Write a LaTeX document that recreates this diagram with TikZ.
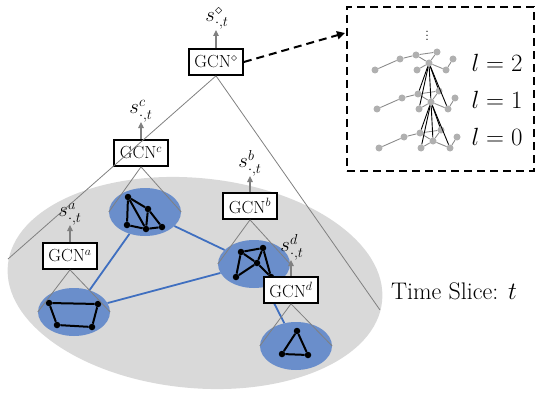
\documentclass[tikz,border=0pt]{standalone}
\usetikzlibrary{shapes.geometric,arrows.meta}
\begin{document}
\begin{tikzpicture}[x=1pt,y=-1pt,
    blob/.style={ellipse,fill=blobC,minimum width=72pt,minimum height=48pt,inner sep=0pt},
    vert/.style={circle,fill=black,minimum size=6.5pt,inner sep=0pt},
    bond/.style={line width=2pt},
    link/.style={draw=linkC,line width=1.8pt},
    cone/.style={draw=coneC,line width=0.8pt},
    gcn/.style={draw=black,line width=1.7pt,fill=white,minimum width=54pt,minimum height=26pt,
                inner sep=1pt,font=\fontsize{17.5}{19}\selectfont},
    up/.style={draw=coneC,line width=1.2pt,-{Triangle[length=6pt,width=5.5pt]}},
    slabel/.style={font=\fontsize{22}{24}\selectfont,inner sep=0pt,anchor=south},
    zoombox/.style={draw=black,line width=2pt,dash pattern=on 8pt off 5pt,
                    minimum width=187pt,minimum height=164pt},
    zoomarrow/.style={draw=black,line width=2pt,dash pattern=on 8pt off 5pt,
                      -{Triangle[length=8pt,width=8pt]}},
    gdot/.style={circle,fill=dotC,minimum size=7pt,inner sep=0pt},
    gedge/.style={draw=dotC!80!black,line width=0.9pt},
    fan/.style={draw=black,line width=0.9pt},
    lvl/.style={font=\fontsize{23}{25}\selectfont,inner sep=0pt}]
  \definecolor{sliceC}{HTML}{D9D9D9}
  \definecolor{blobC}{HTML}{6A8ECB}
  \definecolor{linkC}{HTML}{3F6FC0}
  \definecolor{coneC}{HTML}{808080}
  \definecolor{dotC}{HTML}{B0B0B0}
  \useasboundingbox (0,0) rectangle (536,396);
  % time slice
  \fill[sliceC,rotate around={-5.5:(195,283)}] (195,283) ellipse [x radius=188, y radius=105];
  \node[font=\fontsize{24}{26}\selectfont] (slice) at (454,291) {Time Slice: $t$};
  % communities
  \node[blob] (e1) at (145,212) {};
  \node[blob] (e2) at (74,312) {};
  \node[blob] (e3) at (254,264) {};
  \node[blob] (e4) at (296,346) {};
  \foreach \a/\b in {e1/e2,e1/e3,e2/e3,e3/e4}
    \draw[link] (\a) -- (\b);
  \foreach \n/\x/\y in {
      e1a/128/197, e1b/148/209, e1c/127/225, e1d/146/229, e1e/162/227,
      e2a/49/303, e2b/98/304, e2c/92/327, e2d/57/325,
      e3a/241/252, e3b/263/248, e3c/257/263, e3d/236/277, e3e/271/277,
      e4a/297/331, e4b/282/354, e4c/308/355}
    \node[vert] (\n) at (\x,\y) {};
  \foreach \a/\b in {
      e1a/e1b, e1a/e1c, e1a/e1d, e1b/e1d, e1b/e1e, e1c/e1d, e1d/e1e,
      e2a/e2b, e2b/e2c, e2c/e2d, e2d/e2a,
      e3a/e3b, e3a/e3c, e3a/e3d, e3b/e3c, e3b/e3e, e3c/e3d, e3c/e3e,
      e4a/e4b, e4b/e4c, e4c/e4a}
    \draw[bond] (\a) -- (\b);
  % GCN boxes
  \node[gcn] (gcnt) at (216,62) {GCN$^{\diamond}$};
  \node[gcn] (gcnc) at (141,153) {GCN$^{c}$};
  \node[gcn] (gcna) at (70,256) {GCN$^{a}$};
  \node[gcn] (gcnb) at (250,206) {GCN$^{b}$};
  \node[gcn] (gcnd) at (291,290) {GCN$^{d}$};
  \foreach \g/\e in {gcnc/e1,gcna/e2,gcnb/e3,gcnd/e4}{
    \draw[cone] (\g.south) -- (\e.west);
    \draw[cone] (\g.south) -- (\e.east);
  }
  \node[slabel] (st) at (217,30) {$s^{\diamond}_{\cdot,t}$};
  \node[slabel] (sc) at (141,122) {$s^{c}_{\cdot,t}$};
  \node[slabel] (sa) at (70,225) {$s^{a}_{\cdot,t}$};
  \node[slabel] (sb) at (250,176) {$s^{b}_{\cdot,t}$};
  \node[slabel] (sd) at (292,260) {$s^{d}_{\cdot,t}$};
  \foreach \g/\s in {gcnt/st,gcnc/sc,gcna/sa,gcnb/sb,gcnd/sd}
    \draw[up] (\g.north) -- (\g.north |- \s.south);
  \coordinate (farL) at (8,259);
  \coordinate (farR) at (380,310);
  \draw[cone] (gcnt.south) -- (farL);
  \draw[cone] (gcnt.south) -- (farR);
  % zoomed view of the layers
  \node[zoombox] (zoom) at (440.5,89) {};
  \coordinate (ztip) at (345,33);
  \draw[zoomarrow] (gcnt.east) -- (ztip);
  \node[font=\fontsize{16}{18}\selectfont] (vdots) at (427,33) {$\vdots$};
  \foreach \k/\dx/\dy in {2/0/0,1/2/39,0/4/78}{
    \foreach \n/\x/\y in {1/375/70,2/400/59,3/416/55,4/437/52,5/429/63,6/417/70,7/446/70,8/453/59}
      \node[gdot] (l\k-\n) at (\x+\dx,\y+\dy) {};
    \foreach \a/\b in {1/2,2/3,3/4,3/5,4/5,5/6,5/7,7/8}
      \draw[gedge] (l\k-\a) -- (l\k-\b);
  }
  \foreach \k/\j in {2/1,1/0}
    \foreach \b in {3,4,5,6,7}
      \draw[fan] (l\k-5) -- (l\j-\b);
  \node[lvl] (lv2) at (497,63) {$l=2$};
  \node[lvl] (lv1) at (497,100) {$l=1$};
  \node[lvl] (lv0) at (497,137) {$l=0$};
\end{tikzpicture}
\end{document}
